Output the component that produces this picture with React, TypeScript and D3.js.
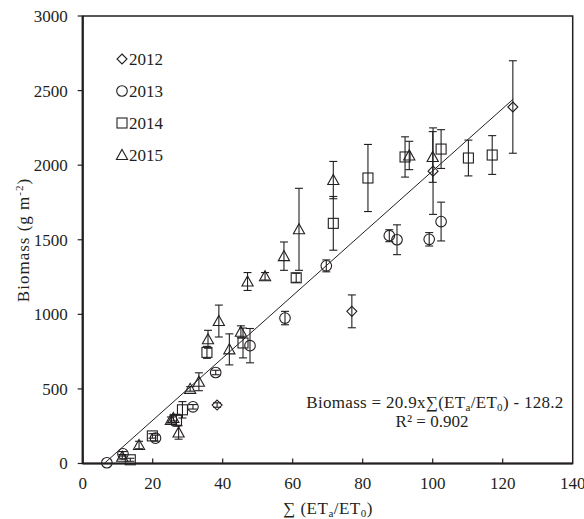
import React from 'react';
import * as d3 from 'd3';

// [x, biomass, sd]
const y2012: number[][] = [
  [38.4, 392, 15],
  [76.9, 1020, 110],
  [100.1, 1960, 290],
  [122.9, 2390, 310],
];
const y2013: number[][] = [
  [6.9, 5, 0],
  [11.5, 65, 15],
  [20.8, 170, 20],
  [31.5, 380, 15],
  [38.0, 610, 15],
  [47.8, 790, 115],
  [57.8, 975, 45],
  [69.6, 1325, 40],
  [87.6, 1527, 40],
  [89.8, 1500, 100],
  [99.0, 1503, 45],
  [102.4, 1622, 130],
];
const y2014: number[][] = [
  [13.6, 25, 10],
  [19.9, 185, 15],
  [26.8, 290, 40],
  [28.5, 360, 55],
  [35.5, 745, 40],
  [45.8, 808, 100],
  [61.0, 1245, 30],
  [71.6, 1610, 180],
  [81.5, 1914, 225],
  [92.1, 2055, 135],
  [102.4, 2108, 130],
  [110.2, 2048, 120],
  [117.0, 2068, 130],
];
const y2015: number[][] = [
  [11.3, 45, 15],
  [16.1, 124, 25],
  [25.2, 292, 20],
  [25.9, 305, 20],
  [27.4, 208, 45],
  [30.7, 500, 15],
  [33.2, 548, 60],
  [35.8, 833, 60],
  [38.9, 955, 107],
  [41.9, 765, 104],
  [45.2, 883, 40],
  [47.1, 1220, 60],
  [52.1, 1255, 25],
  [57.5, 1390, 95],
  [61.8, 1570, 275],
  [71.6, 1900, 125],
  [93.3, 2065, 95],
  [100.0, 2055, 170],
];
const years = ['2012', '2013', '2014', '2015'];
const xTicks = [0, 20, 40, 60, 80, 100, 120, 140];
const yTicks = [0, 500, 1000, 1500, 2000, 2500, 3000];
const slope = 20.9;
const intercept = -128.2;

const W = 584;
const H = 519;
const margin = { left: 82.7, right: 11.3, top: 16, bottom: 55.5 };
const FONT = "'Liberation Serif', 'DejaVu Serif', serif";
const INK = '#231f20';

const x = d3.scaleLinear().domain([0, 140]).range([margin.left, W - margin.right]);
const y = d3.scaleLinear().domain([0, 3000]).range([H - margin.bottom, margin.top]);

function Marker({ kind, cx, cy }: { kind: string; cx: number; cy: number }) {
  const common = { fill: 'none', stroke: INK, strokeWidth: 1.1 };
  if (kind === '2012') {
    const r = 5;
    return <path d={`M${cx},${cy - r}L${cx + r},${cy}L${cx},${cy + r}L${cx - r},${cy}Z`} {...common} />;
  }
  if (kind === '2013') return <circle cx={cx} cy={cy} r={5.3} {...common} />;
  if (kind === '2014') return <rect x={cx - 5} y={cy - 5} width={10} height={10} {...common} />;
  const s = 5.6;
  return <path d={`M${cx},${cy - s}L${cx + s},${cy + s * 0.8}L${cx - s},${cy + s * 0.8}Z`} {...common} />;
}

function Series({ data, kind }: { data: number[][]; kind: string }) {
  return (
    <g>
      {data.map((d, i) => {
        const cx = x(d[0]);
        const top = y(d[1] + d[2]);
        const bot = y(d[1] - d[2]);
        return (
          <g key={i}>
            {d[2] > 0 && (
              <g stroke={INK} strokeWidth={1.1}>
                <line x1={cx} x2={cx} y1={top} y2={bot} />
                <line x1={cx - 4} x2={cx + 4} y1={top} y2={top} />
                <line x1={cx - 4} x2={cx + 4} y1={bot} y2={bot} />
              </g>
            )}
            <Marker kind={kind} cx={cx} cy={y(d[1])} />
          </g>
        );
      })}
    </g>
  );
}

export default function App() {
  const x0 = -intercept / slope;
  const x1 = 123;
  const legendY = [59, 91, 123, 155];
  return (
    <svg width={W} height={H} style={{ position: 'absolute', left: 0, top: 0, background: '#fff', fontFamily: FONT }}>
      {/* regression line */}
      <line x1={x(x0)} y1={y(slope * x0 + intercept)} x2={x(x1)} y2={y(slope * x1 + intercept)} stroke={INK} strokeWidth={1} />

      <Series data={y2012} kind="2012" />
      <Series data={y2013} kind="2013" />
      <Series data={y2014} kind="2014" />
      <Series data={y2015} kind="2015" />

      {/* frame */}
      <rect x={margin.left} y={margin.top} width={W - margin.left - margin.right} height={H - margin.top - margin.bottom}
        fill="none" stroke={INK} strokeWidth={1.5} />
      <line x1={margin.left} x2={margin.left} y1={margin.top} y2={H - margin.bottom} stroke={INK} strokeWidth={2.2} />
      <line x1={margin.left} x2={W - margin.right} y1={H - margin.bottom} y2={H - margin.bottom} stroke={INK} strokeWidth={2.2} />

      {/* y axis ticks */}
      {yTicks.map((t) => (
        <g key={t}>
          <line x1={margin.left - 5} x2={margin.left} y1={y(t)} y2={y(t)} stroke={INK} strokeWidth={1.2} />
          <text x={margin.left - 15} y={y(t)} dy="0.35em" textAnchor="end" fontSize={17} fill={INK}>{t}</text>
        </g>
      ))}
      {/* x axis ticks */}
      {xTicks.map((t) => (
        <g key={t}>
          {t > 0 && t < 140 && (
            <line x1={x(t)} x2={x(t)} y1={y(0)} y2={y(0) - 5} stroke={INK} strokeWidth={1.2} />
          )}
          <text x={x(t)} y={y(0) + 20} dy="0.35em" textAnchor="middle" fontSize={17} fill={INK}>{t}</text>
        </g>
      ))}

      {/* axis titles */}
      <text x={328} y={508} dy="0.35em" textAnchor="middle" fontSize={17} fill={INK} letterSpacing={0.5}>
        ∑ (ET<tspan fontSize={11} dy={3}>a</tspan><tspan dy={-3}>/ET</tspan><tspan fontSize={11} dy={3}>0</tspan><tspan dy={-3}>)</tspan>
      </text>
      <text transform={`translate(29,240) rotate(-90)`} textAnchor="middle" fontSize={17} fill={INK} letterSpacing={1}>
        Biomass  (g m<tspan fontSize={11} dy={-6}>-2</tspan><tspan dy={6}>)</tspan>
      </text>

      {/* legend */}
      {years.map((yr, i) => (
        <g key={yr}>
          <Marker kind={yr} cx={122} cy={legendY[i]} />
          <text x={129} y={legendY[i]} dy="0.35em" fontSize={17} fill={INK}>{yr}</text>
        </g>
      ))}

      {/* equation */}
      <text x={435} y={402} dy="0.35em" textAnchor="middle" fontSize={17} fill={INK} letterSpacing={0.3}>
        Biomass = 20.9x∑(ET<tspan fontSize={11} dy={3}>a</tspan><tspan dy={-3}>/ET</tspan><tspan fontSize={11} dy={3}>0</tspan><tspan dy={-3}>) - 128.2</tspan>
      </text>
      <text x={432} y={421} dy="0.35em" textAnchor="middle" fontSize={17} fill={INK}>
        R² = 0.902
      </text>
    </svg>
  );
}
